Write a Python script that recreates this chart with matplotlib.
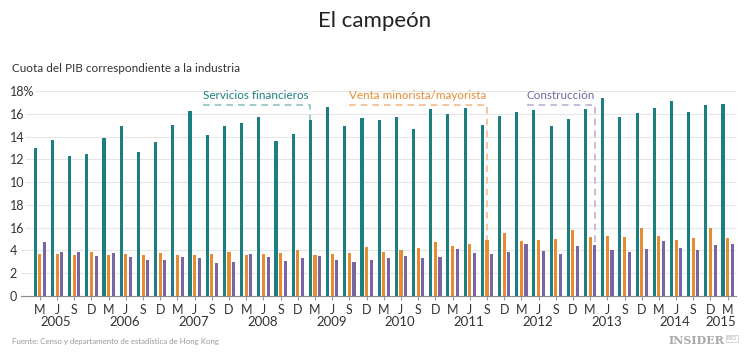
import numpy as np
import matplotlib
matplotlib.use('Agg')
import matplotlib.pyplot as plt

plt.rcParams['font.family'] = ['Lato', 'DejaVu Sans']

quarters = ['M', 'J', 'S', 'D'] * 10 + ['M']
years = ['2005', '2006', '2007', '2008', '2009', '2010', '2011', '2012', '2013', '2014', '2015']

financieros = [13.0, 13.7, 12.25, 12.5, 13.9, 14.95, 12.65, 13.55,
               15.05, 16.25, 14.1, 14.95, 15.2, 15.7, 13.6, 14.25,
               15.45, 16.6, 14.9, 15.65, 15.45, 15.75, 14.65, 16.4,
               16.0, 16.55, 15.0, 15.8, 16.15, 16.3, 14.9, 15.55,
               16.45, 17.35, 15.75, 16.05, 16.5, 17.1, 16.15, 16.75,
               16.85]
venta = [3.7, 3.7, 3.6, 3.85, 3.6, 3.65, 3.6, 3.8,
         3.6, 3.6, 3.65, 3.9, 3.6, 3.7, 3.75, 4.0,
         3.6, 3.65, 3.8, 4.3, 3.85, 4.0, 4.2, 4.75,
         4.4, 4.6, 4.9, 5.55, 4.8, 4.9, 5.0, 5.8,
         5.15, 5.3, 5.15, 5.95, 5.25, 4.9, 5.05, 5.95,
         5.05]
construccion = [4.75, 3.85, 3.85, 3.55, 3.8, 3.4, 3.15, 3.2,
                3.4, 3.35, 2.9, 3.0, 3.7, 3.4, 3.05, 3.35,
                3.5, 3.15, 3.0, 3.15, 3.35, 3.55, 3.35, 3.45,
                4.1, 3.75, 3.7, 3.9, 4.55, 3.95, 3.65, 4.35,
                4.45, 4.05, 3.9, 4.15, 4.85, 4.2, 4.05, 4.45,
                4.55]
ytick_labels = ['0', '2', '4', '16', '18', '10', '12', '14', '16', '18%']

teal = '#1b7f81'
orange = '#e68d34'
purple = '#7865a3'

x = np.arange(len(quarters))
off = 0.27
w = 0.18

fig = plt.figure(figsize=(7.5, 3.58), dpi=100)
ax = fig.add_axes([0.028, 0.1732, 0.953, 0.5726])

ax.bar(x - off, financieros, w, color=teal, zorder=3)
ax.bar(x, venta, w, color=orange, zorder=3)
ax.bar(x + off, construccion, w, color=purple, zorder=3)

ax.set_xlim(-1.1, 40.47)
ax.set_ylim(0, 18)
ax.set_yticks(np.arange(0, 19, 2))
ax.set_yticklabels(ytick_labels)
ax.yaxis.grid(True, color='#e6e6e6', linewidth=0.8, zorder=0)
ax.tick_params(axis='y', length=0, pad=8, labelsize=9, labelcolor='#333333')
for lab in ax.get_yticklabels():
    lab.set_horizontalalignment('left')
    lab.set_bbox(dict(facecolor='white', edgecolor='none', pad=1))

ax.set_xticks(x)
ax.set_xticklabels(quarters)
ax.tick_params(axis='x', length=3, width=0.8, color='#999999', pad=2.5,
               labelsize=9, labelcolor='#333333')

for s in ['top', 'right', 'left']:
    ax.spines[s].set_visible(False)
ax.spines['bottom'].set_color('#888888')
ax.spines['bottom'].set_linewidth(0.8)
ax.spines['bottom'].set_zorder(4)

# years under the quarter letters
for k, yr in enumerate(years[:-1]):
    ax.text(4 * k + 0.95, -0.1, yr, transform=ax.get_xaxis_transform(),
            ha='center', va='top', fontsize=9.5, color='#333333')
ax.text(39.6, -0.1, years[-1], transform=ax.get_xaxis_transform(),
        ha='center', va='top', fontsize=9.5, color='#333333')

# labels with dashed brackets
def bracket(x0, x1, ytop, label, col, light):
    ax.plot([x0, x1, x1], [16.77, 16.77, ytop], ls=(0, (4, 3)), color=light,
            lw=1.2, zorder=2, clip_on=False)
    ax.text(x0, 17.1, label, ha='left', va='bottom', fontsize=8.4, color=col)

bracket(9.48, 16 - off, financieros[16], 'Servicios financieros', teal, '#8fc3c3')
bracket(17.97, 26, venta[26], 'Venta minorista/mayorista', orange, '#f1bb8a')
bracket(28.3, 32 + off, construccion[32], 'Construcción', purple, '#bbb2d3')

fig.text(0.5, 0.94, 'El campeón', ha='center', va='center', fontsize=16, color='#222222')
fig.text(0.016, 0.81, 'Cuota del PIB correspondiente a la industria', ha='left',
         va='center', fontsize=8.5, color='#333333')
fig.text(0.016, 0.045, 'Fuente: Censo y departamento de estadística de Hong Kong',
         ha='left', va='center', fontsize=5.7, color='#999999')
fig.text(0.966, 0.048, 'INSIDER', ha='right', va='center', fontsize=8,
         family='DejaVu Serif', weight='bold', color='#aaaaaa')
fig.text(0.969, 0.054, 'PRO', ha='left', va='center', fontsize=3.5,
         color='#aaaaaa', bbox=dict(facecolor='none', edgecolor='#bbbbbb', pad=0.6, lw=0.4))

fig.savefig('out.png', dpi=100)
